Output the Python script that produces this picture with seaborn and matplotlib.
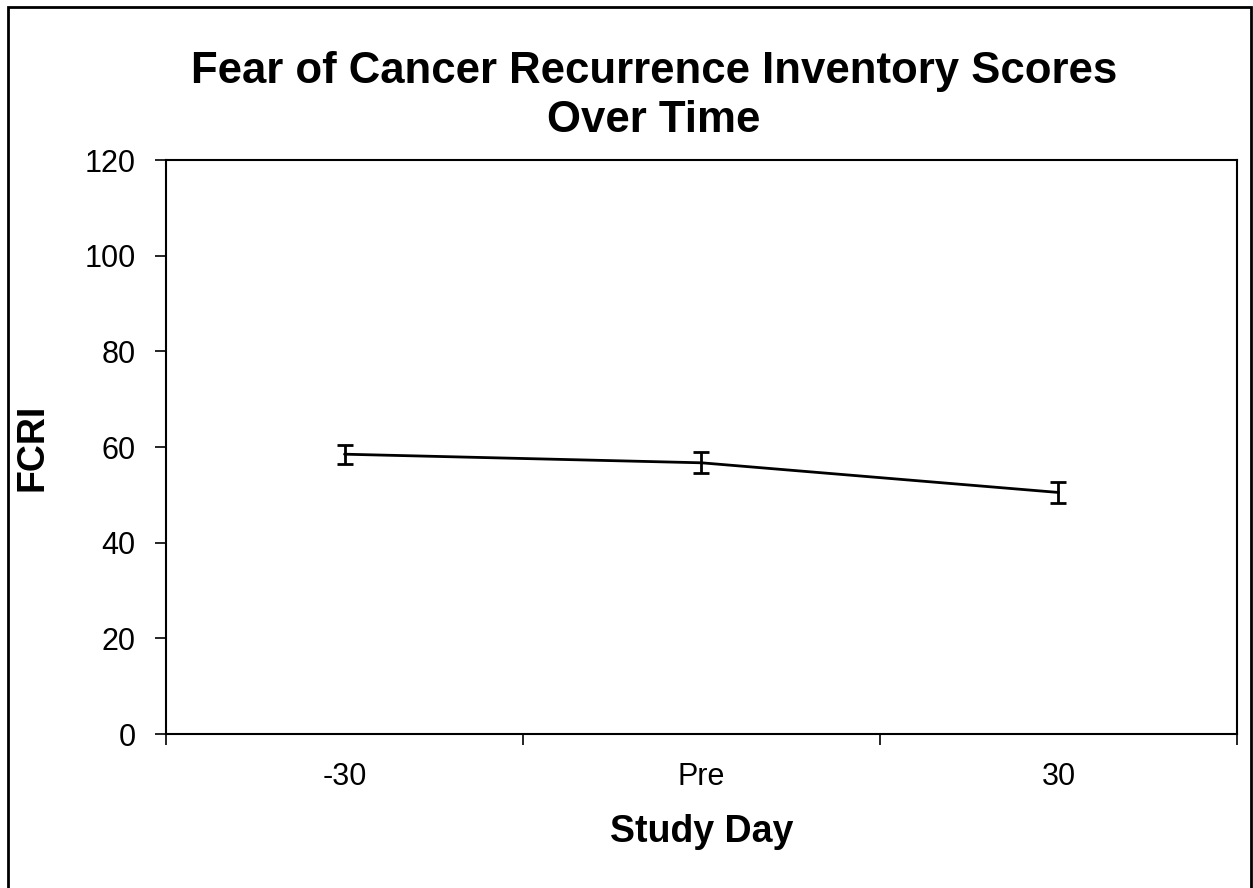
import matplotlib
matplotlib.use('Agg')
import matplotlib.pyplot as plt
import seaborn as sns
import pandas as pd
from matplotlib.patches import Rectangle

days = ['-30', 'Pre', '30']
fcri = [58.5, 56.7, 50.5]
fcri_err = [2.0, 2.2, 2.2]

sns.set_style('white')
plt.rcParams['font.family'] = ['Liberation Sans', 'DejaVu Sans']
plt.rcParams['text.color'] = 'black'
plt.rcParams['axes.labelcolor'] = 'black'
plt.rcParams['xtick.color'] = 'black'
plt.rcParams['ytick.color'] = 'black'

df = pd.DataFrame({'day': days, 'fcri': fcri})

fig = plt.figure(figsize=(12.53, 8.88), dpi=100)
# outer frame of the chart area
fig.patches.append(Rectangle((8 / 1253, -0.01), 1243 / 1253, 1.01 - 7 / 888,
                             transform=fig.transFigure, fill=False,
                             edgecolor='black', linewidth=2))
ax = fig.add_axes([0.1325, 0.1734, 0.8547, 0.6464])

sns.lineplot(x=range(len(days)), y='fcri', data=df, color='black', linewidth=2, ax=ax)
ax.errorbar(range(len(days)), fcri, yerr=fcri_err, fmt='none', ecolor='black',
            elinewidth=2, capsize=5.5, capthick=2)

ax.set_xlim(-0.5, len(days) - 0.5)
ax.set_ylim(0, 120)
ax.set_yticks(range(0, 121, 20))
ax.set_xticks([i - 0.5 for i in range(len(days) + 1)])
ax.set_xticklabels([])
ax.set_xticks(range(len(days)), minor=True)
ax.set_xticklabels(days, minor=True)
ax.tick_params(axis='x', which='major', direction='out', length=8, width=1.2, bottom=True)
ax.tick_params(axis='x', which='minor', length=0, labelsize=22, pad=20)
ax.tick_params(axis='y', direction='out', length=8, width=1.2, labelsize=22, pad=14, left=True)

for s in ax.spines.values():
    s.set_color('black')
    s.set_linewidth(1.5)

ax.set_xlabel('Study Day', fontsize=27, fontweight='bold', labelpad=16)
ax.set_ylabel('FCRI', fontsize=27, fontweight='bold', labelpad=24)
fig.suptitle('Fear of Cancer Recurrence Inventory Scores\nOver Time', x=0.522, y=0.943,
             fontsize=31.5, fontweight='bold', linespacing=1.25)

fig.savefig('out.png', dpi=100)
